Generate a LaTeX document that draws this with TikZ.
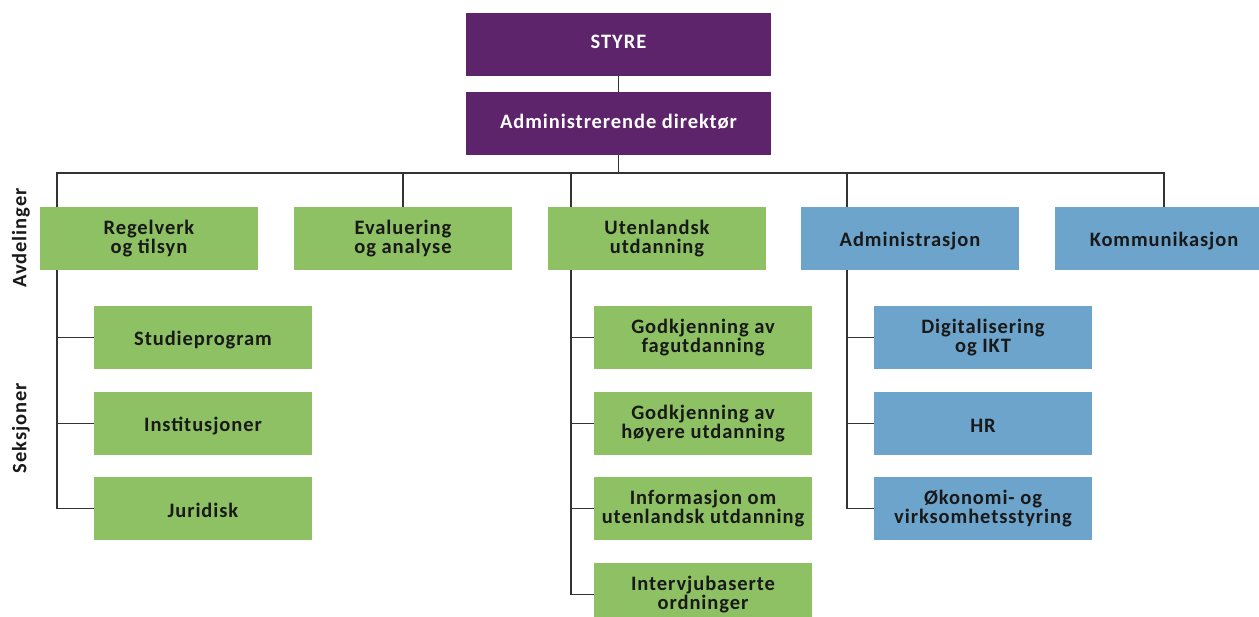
\documentclass[tikz,border=0pt]{standalone}
\usepackage{fontspec}
\setmainfont{Carlito}[LetterSpace=4.5]
\definecolor{styrelilla}{RGB}{93,36,108}
\definecolor{avdgronn}{RGB}{141,193,99}
\definecolor{avdblaa}{RGB}{109,164,203}
\begin{document}
\begin{tikzpicture}[x=1pt,y=-1pt,
    boks/.style={rectangle,inner sep=0pt,minimum width=218pt,minimum height=63pt,align=center,
      font=\fontsize{20.5}{18.5}\selectfont\bfseries,text=black!90},
    avd/.style={boks,execute at begin node={\rule{0pt}{19pt}}},
    lilla/.style={boks,fill=styrelilla,text=white,minimum width=305pt,
      execute at begin node={\rule[-5pt]{0pt}{5pt}}},
    gronn/.style={avd,fill=avdgronn},
    blaa/.style={avd,fill=avdblaa},
    linje/.style={draw=black!80,line width=1.1pt},
    sidetekst/.style={rotate=90,font=\fontsize{20.5}{18}\selectfont\bfseries,text=black!90}]

    \useasboundingbox (0,0) rectangle (1259,617);

    % ledelse
    \node[lilla] (styre) at (618.5,44.5) {STYRE};
    \node[lilla] (dir) at (618.5,123.5) {Administrerende direktør};

    % avdelinger
    \node[gronn] (reg) at (149,238.5) {Regelverk\\og tilsyn};
    \node[gronn] (eva) at (403,238.5) {Evaluering\\og analyse};
    \node[gronn] (ute) at (657,238.5) {Utenlandsk\\utdanning};
    \node[blaa] (adm) at (910,238.5) {Administrasjon};
    \node[blaa] (kom) at (1164,238.5) {Kommunikasjon};

    % seksjoner
    \node[gronn] (stu) at (203,337.5) {Studieprogram};
    \node[gronn] (ins) at (203,423.5) {Institusjoner};
    \node[gronn] (jur) at (203,508.5) {Juridisk};

    \node[gronn] (fag) at (703,337.5) {Godkjenning av\\fagutdanning};
    \node[gronn] (hoy) at (703,423.5) {Godkjenning av\\høyere utdanning};
    \node[gronn] (inf) at (703,508.5) {Informasjon om\\utenlandsk utdanning};
    \node[gronn] (int) at (703,594.5) {Intervjubaserte\\ordninger};

    \node[blaa] (dig) at (983,337.5) {Digitalisering\\og IKT};
    \node[blaa] (hr) at (983,423.5) {HR};
    \node[blaa] (oko) at (983,508.5) {Økonomi- og\\virksomhetsstyring};

    \node[sidetekst] (avdtekst) at (21,238) {Avdelinger};
    \node[sidetekst] (seksjtekst) at (21,428) {Seksjoner};

    % linjer
    \coordinate (regx) at (57,173);
    \coordinate (dirx) at (618.5,173);
    \coordinate (utex) at (571,173);
    \coordinate (admx) at (847,173);
    \coordinate (komx) at (1164,173);

    \draw[linje] (styre) -- (dir);
    \draw[linje] (dir) -- (dirx);
    \draw[linje] (regx |- reg.north) -- (regx) -- (komx) -- (kom.north);
    \draw[linje] (eva.north |- regx) -- (eva.north);
    \draw[linje] (utex) -- (utex |- ute.north);
    \draw[linje] (admx) -- (admx |- adm.north);

    \draw[linje] (regx |- reg.south) -- (regx |- jur.west) -- (jur.west);
    \draw[linje] (regx |- stu.west) -- (stu.west);
    \draw[linje] (regx |- ins.west) -- (ins.west);

    \draw[linje] (utex |- ute.south) -- (utex |- int.west) -- (int.west);
    \draw[linje] (utex |- fag.west) -- (fag.west);
    \draw[linje] (utex |- hoy.west) -- (hoy.west);
    \draw[linje] (utex |- inf.west) -- (inf.west);

    \draw[linje] (admx |- adm.south) -- (admx |- oko.west) -- (oko.west);
    \draw[linje] (admx |- dig.west) -- (dig.west);
    \draw[linje] (admx |- hr.west) -- (hr.west);

\end{tikzpicture}
\end{document}
